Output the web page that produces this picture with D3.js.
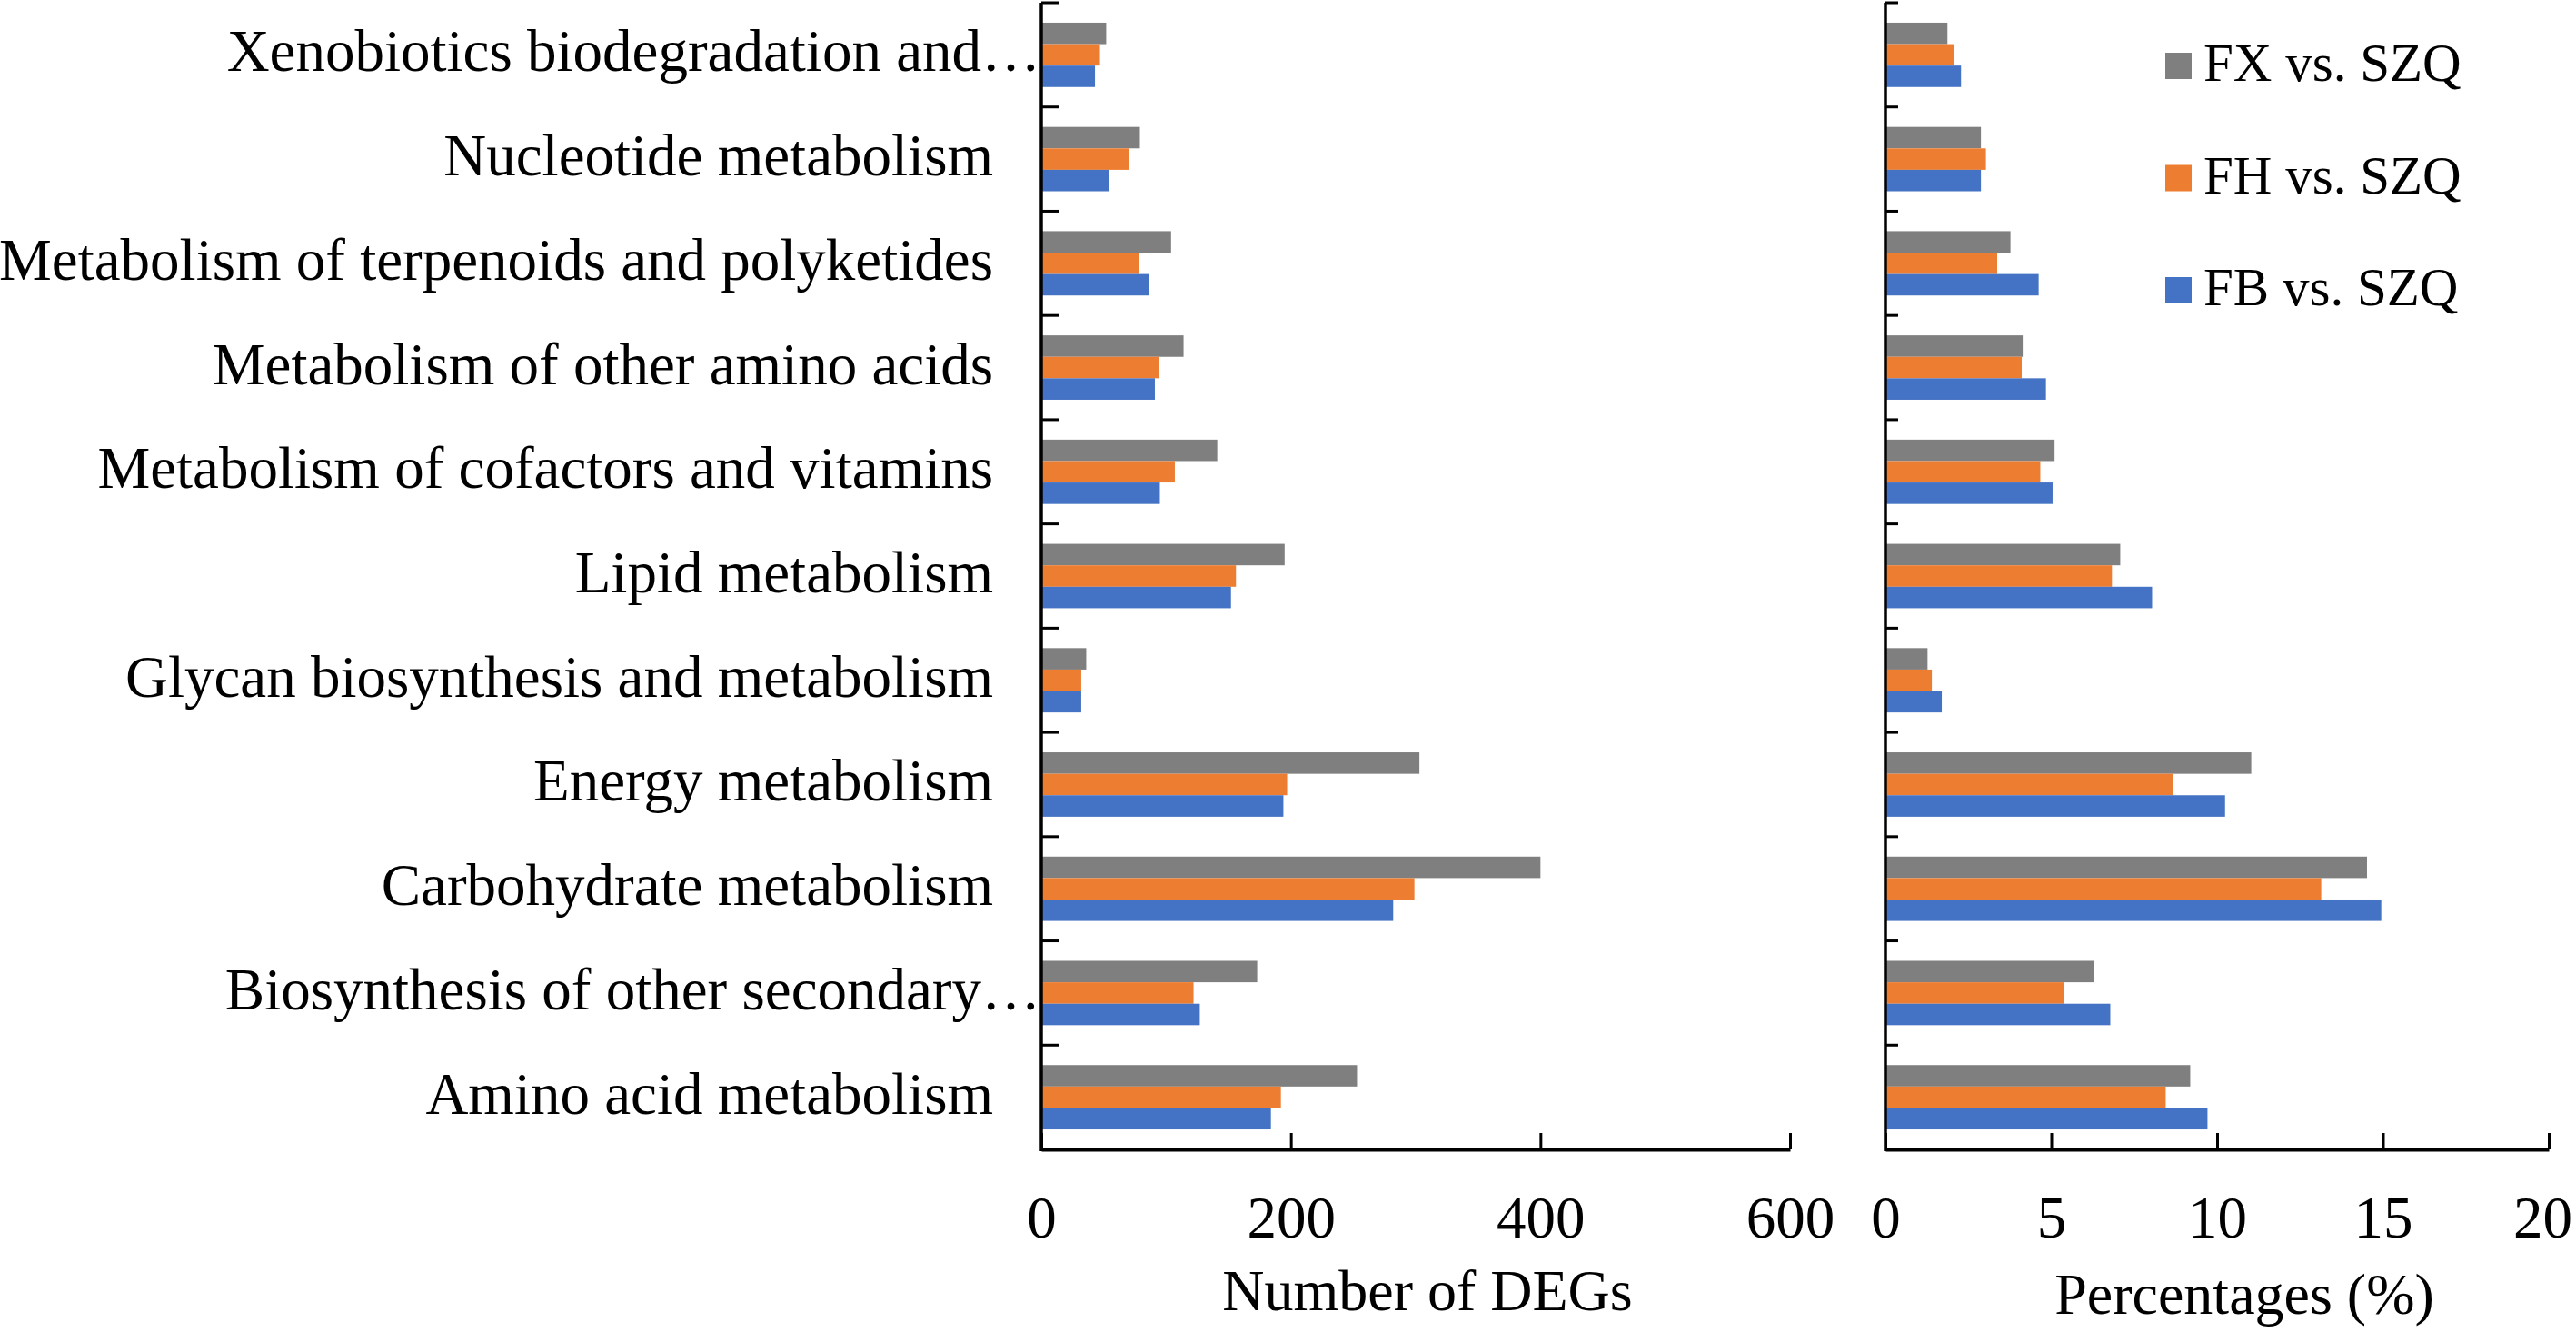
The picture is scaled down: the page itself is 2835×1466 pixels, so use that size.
<!DOCTYPE html>
<html>
<head>
<meta charset="utf-8">
<script src="https://cdn.jsdelivr.net/npm/d3@7"></script>
<style>
    body { margin: 0; background: #fff; overflow: hidden; }
    svg { display: block; font-family: "Liberation Serif", "Times New Roman", serif; }
</style>
</head>
<body>
<svg id="chart" width="2835" height="1466"></svg>
<script>
"use strict";

// Categories, bottom to top (Excel order)
var categories = [
    "Amino acid metabolism",
    "Biosynthesis of other secondary\u2026",
    "Carbohydrate metabolism",
    "Energy metabolism",
    "Glycan biosynthesis and metabolism",
    "Lipid metabolism",
    "Metabolism of cofactors and vitamins",
    "Metabolism of other amino acids",
    "Metabolism of terpenoids and polyketides",
    "Nucleotide metabolism",
    "Xenobiotics biodegradation and\u2026"
];

var seriesNames = ["FX vs. SZQ", "FH vs. SZQ", "FB vs. SZQ"];
var seriesColors = ["#7f7f7f", "#ed7d31", "#4472c4"];

// Number of DEGs
var countFX = [253, 173, 400, 303, 36, 195, 141, 114, 104, 79, 52];
var countFH = [192, 122, 299, 197, 32, 156, 107, 94, 78, 70, 47];
var countFB = [184, 127, 282, 194, 32, 152, 95, 91, 86, 54, 43];

// Percentages (%)
var pctFX = [9.19, 6.30, 14.52, 11.03, 1.27, 7.08, 5.10, 4.14, 3.77, 2.88, 1.87];
var pctFH = [8.45, 5.37, 13.14, 8.67, 1.40, 6.83, 4.67, 4.11, 3.37, 3.03, 2.07];
var pctFB = [9.71, 6.78, 14.95, 10.24, 1.70, 8.04, 5.04, 4.84, 4.62, 2.88, 2.28];

var countTicks = [0, 200, 400, 600];
var pctTicks = [0, 5, 10, 15, 20];

var svg = d3.select("#chart");
var top_y = 3, bottom_y = 1265;
var fontSize = 65;

var y = d3.scaleBand()
    .domain(categories.slice().reverse())
    .range([top_y, bottom_y])
    .paddingInner(0)
    .paddingOuter(0)
;

var ySub = d3.scaleBand()
    .domain(seriesNames)
    .range([0, y.bandwidth()])
    .paddingInner(0)
    .paddingOuter(0.93)
;

function drawPanel(x0, x1, max, ticks, seriesValues, yTickLen) {
    var x = d3.scaleLinear().domain([0, max]).range([x0, x1]);
    var g = svg.append("g");

    seriesValues.forEach(function(values, si) {
        g.append("g")
            .selectAll("rect")
            .data(categories)
            .join("rect")
            .attr("x", x(0))
            .attr("y", function(d) { return y(d) + ySub(seriesNames[si]); })
            .attr("width", function(d, i) { return x(values[i]) - x(0); })
            .attr("height", ySub.bandwidth())
            .style("fill", seriesColors[si])
        ;
    });

    // x axis, ticks pointing inwards
    var axis = d3.axisBottom(x)
        .tickValues(ticks)
        .tickSizeInner(-18)
        .tickSizeOuter(0)
        .tickPadding(51)
    ;
    var ax = g.append("g")
        .attr("transform", "translate(0," + bottom_y + ")")
        .call(axis)
    ;
    ax.select(".domain").attr("stroke", "#000").attr("stroke-width", 4);
    ax.selectAll(".tick line").attr("stroke", "#000").attr("stroke-width", 3);
    ax.selectAll(".tick text")
        .attr("fill", "#000")
        .style("font-size", fontSize + "px")
        .style("font-family", "Liberation Serif, Times New Roman, serif")
    ;

    // y axis line and ticks between categories
    g.append("line")
        .attr("x1", x(0)).attr("x2", x(0))
        .attr("y1", top_y).attr("y2", bottom_y + 2)
        .attr("stroke", "#000").attr("stroke-width", 3.5)
    ;
    var bounds = y.domain().map(function(d) { return y(d); });
    g.append("g")
        .selectAll("line")
        .data(bounds)
        .join("line")
        .attr("x1", x(0)).attr("x2", x(0) + yTickLen)
        .attr("y1", function(d) { return d; })
        .attr("y2", function(d) { return d; })
        .attr("stroke", "#000").attr("stroke-width", 3)
    ;
    return ax;
}

var axCount = drawPanel(1146, 1970, 600, countTicks, [countFX, countFH, countFB], 20);
var axPct = drawPanel(2075, 2805, 20, pctTicks, [pctFX, pctFH, pctFB], 14);

// last label sits at the page edge, nudge it in so it is not cut
axPct.selectAll(".tick text")
    .filter(function(d) { return d === 20; })
    .attr("dx", -7)
;

// category labels
svg.append("g")
    .selectAll("text")
    .data(categories)
    .join("text")
    .attr("x", function(d) { return d.slice(-1) === "\u2026" ? 1145 : 1093; })
    .attr("y", function(d) { return y(d) + y.bandwidth() / 2 + 18; })
    .attr("text-anchor", "end")
    .style("font-size", fontSize + "px")
    .text(function(d) { return d; })
;

// axis titles
svg.append("text")
    .attr("x", 1571).attr("y", 1442)
    .attr("text-anchor", "middle")
    .style("font-size", "64px")
    .text("Number of DEGs")
;
svg.append("text")
    .attr("x", 2470).attr("y", 1446)
    .attr("text-anchor", "middle")
    .style("font-size", "64px")
    .text("Percentages (%)")
;

// legend
var legend = svg.append("g")
    .selectAll("g")
    .data(seriesNames)
    .join("g")
    .attr("transform", function(d, i) { return "translate(2383," + (58 + i * 123.5) + ")"; })
;
legend.append("rect")
    .attr("width", 29).attr("height", 29)
    .style("fill", function(d, i) { return seriesColors[i]; })
;
legend.append("text")
    .attr("x", 42).attr("y", 31)
    .style("font-size", "59px")
    .text(function(d) { return d; })
;
</script>
</body>
</html>
